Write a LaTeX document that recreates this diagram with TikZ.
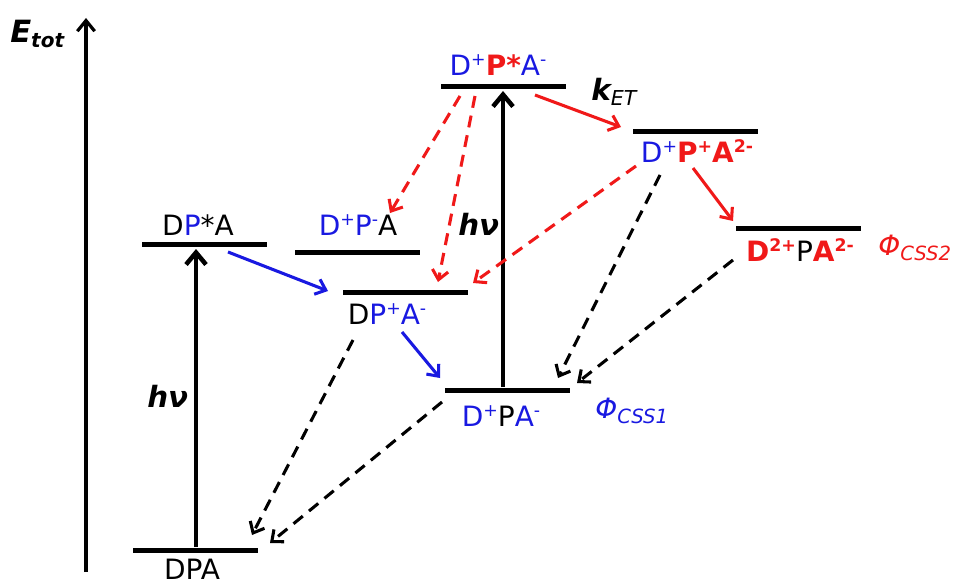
\documentclass[tikz,border=0pt]{standalone}
\usepackage{fontspec}
\setmainfont{DejaVu Sans}
\usetikzlibrary{arrows.meta}
\definecolor{myblue}{RGB}{25,25,225}
\definecolor{myred}{RGB}{240,25,25}
\newcommand\supx[1]{\raisebox{0.62ex}{\fontsize{13}{13}\selectfont #1}}
\newcommand\Bc[1]{\textcolor{myblue}{#1}}
\newcommand\Rc[1]{\textcolor{myred}{#1}}
\begin{document}
\begin{tikzpicture}[x=0.75pt,y=-0.75pt,
  bar/.style={fill=black,inner sep=0pt,minimum width=93.75pt,minimum height=3.75pt},
  lbl/.style={font=\fontsize{21}{24}\selectfont,inner sep=0pt,anchor=base},
  sym/.style={font=\fontsize{22}{24}\selectfont\bfseries\itshape,inner sep=0pt,anchor=base west},
  phi/.style={font=\fontsize{21}{24}\selectfont\itshape,inner sep=0pt,anchor=base west},
  blk/.style={line width=3.4pt,-{Straight Barb[length=9pt,width=15pt]}},
  col/.style={line width=2.3pt,-{Straight Barb[length=7pt,width=12pt]}},
  dsh/.style={line width=2.3pt,dash pattern=on 9pt off 6pt,-{Straight Barb[length=7pt,width=12pt]}}
]
\useasboundingbox (0,0) rectangle (964,585);

% energy axis
\coordinate (ax0) at (86,572);
\coordinate (ax1) at (86,18);
\draw[line width=2.4pt,-{Straight Barb[length=8pt,width=13pt]}] (ax0) -- (ax1);
\node[sym,font=\fontsize{23}{26}\selectfont\bfseries\itshape] (etot) at (10,43) {E\textsubscript{\fontsize{15}{16}\selectfont tot}};

% levels
\node[bar] (dpa)  at (195.5,550) {};
\node[bar] (dpsa) at (204.5,244) {};
\node[bar] (dpma) at (357.5,252) {};
\node[bar] (dpam) at (405,292) {};
\node[bar] (dpaa) at (507.5,390) {};
\node[bar] (dps)  at (503.5,87) {};
\node[bar] (dpp)  at (695.5,131) {};
\node[bar] (dtwo) at (798.5,228) {};

% labels
\node[lbl] (ldpa)  at (192,579) {DPA};
\node[lbl] (ldpsa) at (198,235) {D\Bc{P}*A};
\node[lbl] (ldpma) at (358,235) {\Bc{D\supx{+}P\supx{-}}A};
\node[lbl] (ldpam) at (387,324) {D\Bc{P\supx{+}A\supx{-}}};
\node[lbl] (ldpaa) at (501,426) {\Bc{D\supx{+}}P\Bc{A\supx{-}}};
\node[lbl] (ldps)  at (498,75) {\Bc{D\supx{+}}\Rc{\textbf{P*}}\Bc{A\supx{-}}};
\node[lbl] (ldpp)  at (697,162) {\Bc{D\supx{+}}\Rc{\textbf{P\supx{+}A\supx{2-}}}};
\node[lbl] (ldtwo) at (800,261) {\Rc{\textbf{D\supx{2+}}}P\Rc{\textbf{A\supx{2-}}}};

\node[phi,text=myblue] (phi1) at (595,418) {Φ\textsubscript{CSS1}};
\node[phi,text=myred]  (phi2) at (878,255) {Φ\textsubscript{CSS2}};
\node[sym] (ket) at (591,100) {k\textsubscript{\mdseries ET}};
\node[sym] (hv1) at (147,407) {hν};
\node[sym] (hv2) at (458,235) {hν};

% excitation arrows
\coordinate (h1a) at (196,547); \coordinate (h1b) at (196,249);
\coordinate (h2a) at (503,387); \coordinate (h2b) at (503,91);
\draw[blk] (h1a) -- (h1b);
\draw[blk] (h2a) -- (h2b);

% blue arrows
\coordinate (b1a) at (228,252); \coordinate (b1b) at (328,291);
\coordinate (b2a) at (402,332); \coordinate (b2b) at (440,378);
\draw[col,myblue] (b1a) -- (b1b);
\draw[col,myblue] (b2a) -- (b2b);

% red solid arrows
\coordinate (r1a) at (535,95); \coordinate (r1b) at (621,127);
\coordinate (r2a) at (693,168); \coordinate (r2b) at (733,221);
\draw[col,myred] (r1a) -- (r1b);
\draw[col,myred] (r2a) -- (r2b);

% red dashed arrows
\coordinate (rd1a) at (460,96); \coordinate (rd1b) at (390,213);
\coordinate (rd2a) at (475,96); \coordinate (rd2b) at (438,282);
\coordinate (rd3a) at (636,166); \coordinate (rd3b) at (473,283);
\draw[dsh,myred] (rd1a) -- (rd1b);
\draw[dsh,myred] (rd2a) -- (rd2b);
\draw[dsh,myred] (rd3a) -- (rd3b);

% black dashed arrows
\coordinate (k1a) at (660,175); \coordinate (k1b) at (558,378);
\coordinate (k2a) at (733,260); \coordinate (k2b) at (577,383);
\coordinate (k3a) at (353,340); \coordinate (k3b) at (252,535);
\coordinate (k4a) at (442,402); \coordinate (k4b) at (270,543);
\draw[dsh] (k1a) -- (k1b);
\draw[dsh] (k2a) -- (k2b);
\draw[dsh] (k3a) -- (k3b);
\draw[dsh] (k4a) -- (k4b);
\end{tikzpicture}
\end{document}
